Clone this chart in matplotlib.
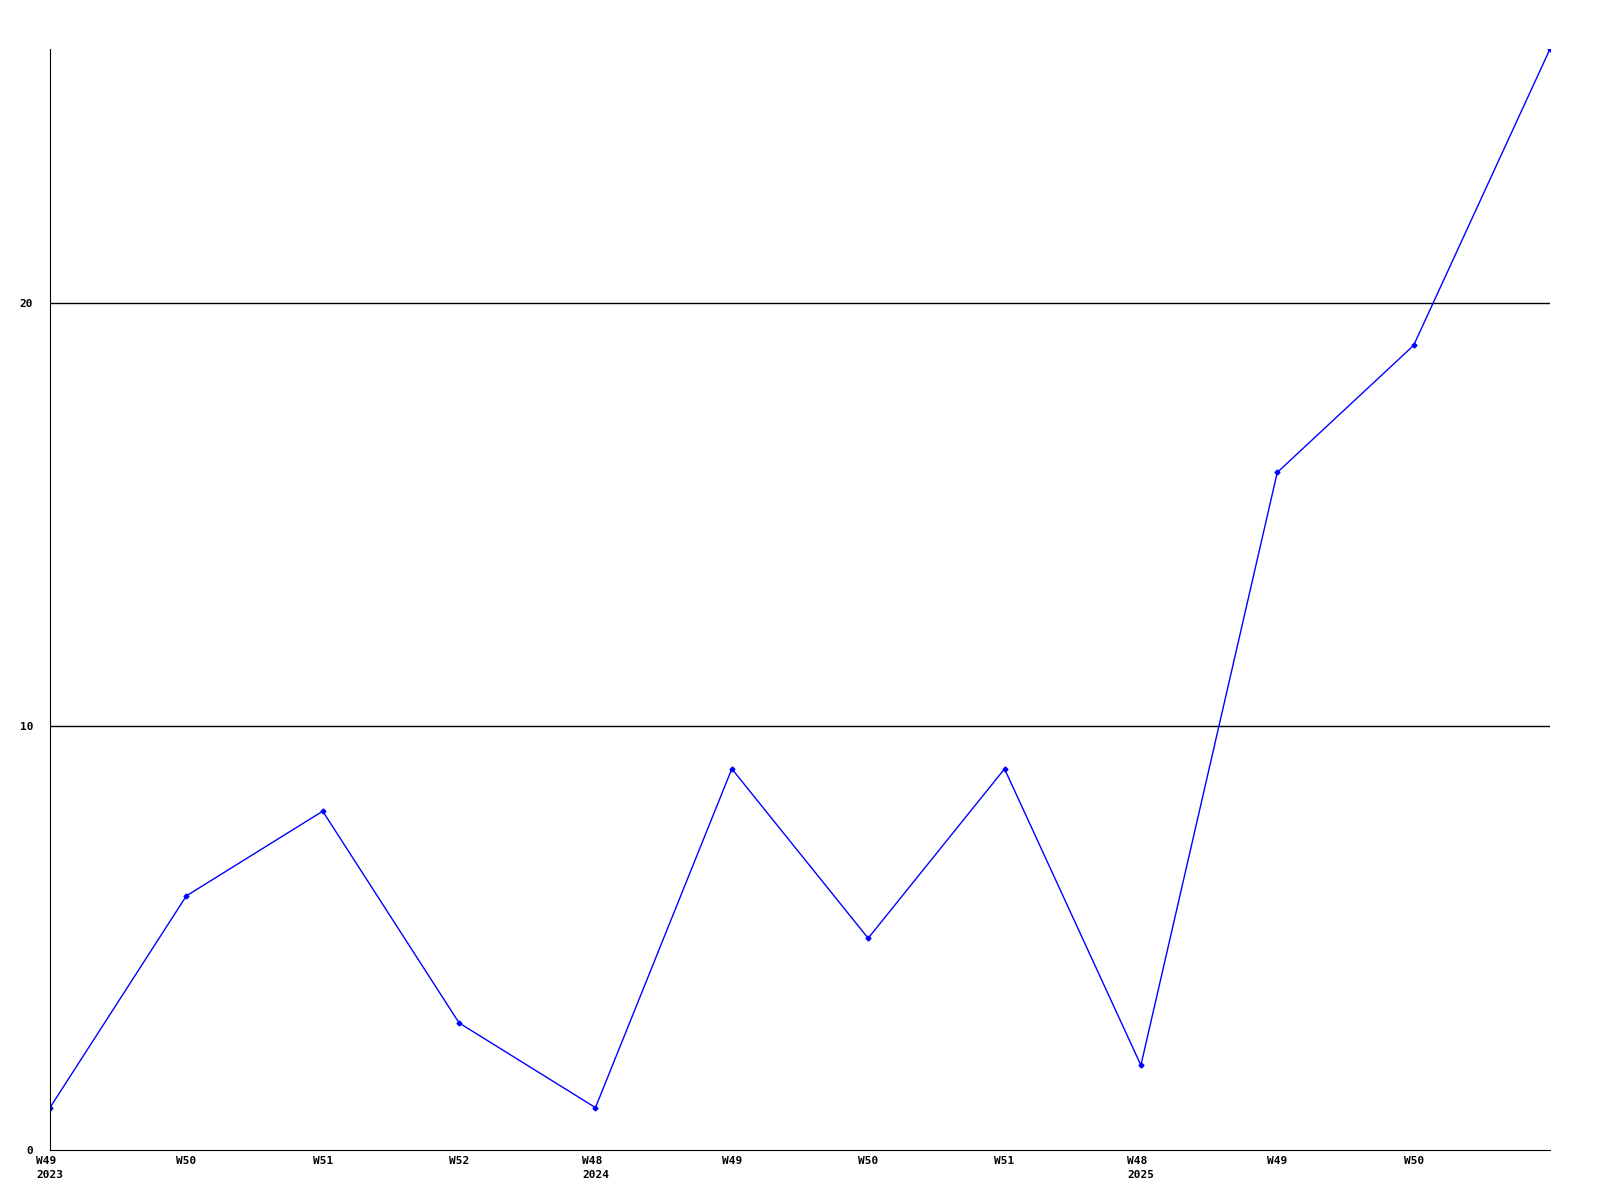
import matplotlib
matplotlib.use('Agg')
from matplotlib import pyplot as plt

# weekly counts
weeks = ['W49\n2023', 'W50', 'W51', 'W52', 'W48\n2024', 'W49', 'W50', 'W51',
         'W48\n2025', 'W49', 'W50', '']
counts = [1, 6, 8, 3, 1, 9, 5, 9, 2, 16, 19, 26]
y_ticks = [0, 10, 20]

plt.rcParams['font.family'] = ['DejaVu Sans Mono']
fig = plt.figure(figsize=(16, 12), dpi=100)
ax = fig.add_axes([0.03125, 0.0417, 0.9375, 0.9175])

x = list(range(len(counts)))
ax.plot(x, counts, color='#0000ff', linewidth=1.0, marker='D', markersize=2.5)

for t in y_ticks[1:]:
    ax.axhline(t, color='black', linewidth=1.0, zorder=0)

ax.set_xlim(0, len(counts) - 1)
ax.set_ylim(0, 26)
ax.set_xticks(x)
ax.set_xticklabels(weeks, fontsize=8, fontweight='bold', linespacing=1.6)
ax.set_yticks(y_ticks)
ax.set_yticklabels([str(t) for t in y_ticks], fontsize=8, fontweight='bold')
ax.tick_params(length=0, pad=12)
ax.tick_params(axis='x', pad=4)
for t in ax.get_xticklabels():
    t.set_verticalalignment('top')
    t.set_multialignment('left')

ax.spines['top'].set_visible(False)
ax.spines['right'].set_visible(False)

fig.savefig('out.png')
